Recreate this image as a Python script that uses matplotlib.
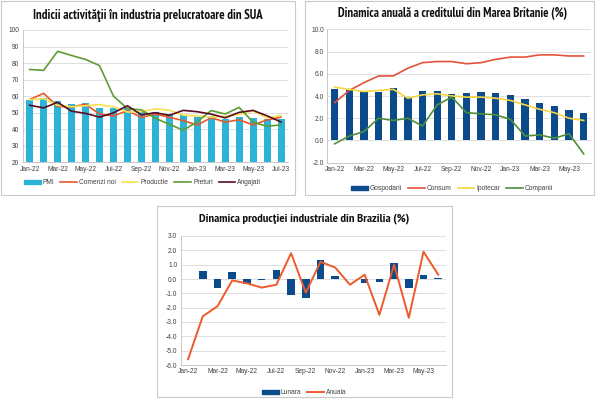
import numpy as np
import matplotlib
matplotlib.use("Agg")
import matplotlib.pyplot as plt
from matplotlib import font_manager
from matplotlib.patches import Rectangle
from matplotlib.lines import Line2D
from matplotlib.patches import Patch

plt.rcParams['axes.unicode_minus'] = False

# ---------------- data ----------------
us_months = ["Jan-22", "Feb-22", "Mar-22", "Apr-22", "May-22", "Jun-22", "Jul-22", "Aug-22",
             "Sep-22", "Oct-22", "Nov-22", "Dec-22", "Jan-23", "Feb-23", "Mar-23", "Apr-23",
             "May-23", "Jun-23", "Jul-23"]
us_pmi = [57.6, 58.6, 57.1, 55.4, 56.1, 53.0, 52.8, 52.8, 50.9, 50.2, 49.0, 48.4, 47.4, 47.7,
          46.3, 47.1, 46.9, 46.0, 46.4]
us_new_orders = [57.9, 61.7, 53.8, 53.5, 55.1, 49.2, 48.0, 51.3, 47.1, 49.2, 47.2, 45.2, 42.5,
                 47.0, 44.3, 45.7, 42.6, 45.6, 47.3]
us_production = [57.8, 58.5, 54.5, 53.6, 54.2, 54.9, 53.5, 50.4, 50.6, 52.3, 51.5, 48.5, 48.0,
                 47.3, 47.8, 48.9, 51.1, 46.7, 48.3]
us_prices = [76.1, 75.6, 87.1, 84.6, 82.2, 78.5, 60.0, 52.5, 51.7, 46.6, 43.0, 39.4, 44.5, 51.3,
             49.2, 53.2, 44.2, 41.8, 42.6]
us_employment = [54.5, 52.9, 56.3, 50.9, 49.6, 47.3, 49.9, 54.2, 48.7, 50.0, 48.4, 51.4, 50.6,
                 49.1, 46.9, 50.2, 51.4, 48.1, 44.4]
us_labels = ["PMI", "Comenzi noi", "Productie", "Preturi", "Angajati"]
us_title = "Indicii activităţii în industria prelucratoare din SUA"
us_yticks = [20, 30, 40, 50, 60, 70, 80, 90, 100]

uk_months = us_months[:18]
uk_households = [4.6, 4.5, 4.35, 4.4, 4.7, 3.9, 4.45, 4.45, 4.15, 4.3, 4.4, 4.3, 4.05, 3.75,
                 3.35, 3.1, 2.7, 2.5]
uk_consumer = [3.4, 4.5, 5.2, 5.8, 5.8, 6.5, 7.0, 7.1, 7.1, 6.9, 7.0, 7.3, 7.5, 7.5, 7.7, 7.7,
               7.6, 7.6]
uk_mortgage = [4.8, 4.6, 4.4, 4.5, 4.6, 3.8, 4.1, 4.2, 4.0, 3.9, 3.9, 3.8, 3.6, 3.2, 2.8, 2.5,
               2.0, 1.8]
uk_companies = [-0.3, 0.4, 0.8, 2.0, 1.8, 2.0, 1.3, 3.2, 3.9, 2.5, 2.4, 2.3, 1.9, 0.4, 0.5, 0.2,
                0.6, -1.2]
uk_labels = ["Gospodarii", "Consum", "Ipotecar", "Companii"]
uk_title = "Dinamica anuală a creditului din Marea Britanie (%)"
uk_yticks = [-2, 0, 2, 4, 6, 8, 10]

br_months = us_months[:18]
br_monthly = [0.0, 0.55, -0.65, 0.5, -0.35, -0.1, 0.65, -1.1, -1.3, 1.3, 0.2, 0.0, -0.3, -0.2,
              1.1, -0.6, 0.3, 0.1]
br_annual = [-5.6, -2.6, -1.9, -0.1, -0.3, -0.6, -0.4, 1.8, -0.95, 1.2, 0.8, -0.4, 0.3, -2.5,
             1.0, -2.7, 1.9, 0.3]
br_labels = ["Lunara", "Anuala"]
br_title = "Dinamica producţiei industriale din Brazilia (%)"
br_yticks = [-6, -5, -4, -3, -2, -1, 0, 1, 2, 3]

# ---------------- styling ----------------
W, H = 600, 399
fig = plt.figure(figsize=(W / 100, H / 100), dpi=100)
fig.patch.set_facecolor("white")


def pick_title_font():
    files = [f for f in font_manager.fontManager.ttflist]
    def bold(f):
        w = f.weight if isinstance(f.weight, int) else {"bold": 700, "heavy": 800, "black": 900}.get(str(f.weight), 400)
        return w >= 600
    for key in ["narrow", "condensed"]:
        for f in files:
            n = (f.name + " " + f.fname).lower()
            if key in n and bold(f) and f.style == "normal":
                return font_manager.FontProperties(fname=f.fname)
        for f in files:
            if key in str(f.stretch).lower() and bold(f) and f.style == "normal":
                return font_manager.FontProperties(fname=f.fname)
    return font_manager.FontProperties(family="Liberation Sans", weight="bold")


title_fp = pick_title_font()
text_family = ["Liberation Sans", "DejaVu Sans"]
TICK_FS = 4.8
TXT = "#404040"
GRID = "#d9d9d9"


def px_rect(l, t, r, b):
    return [l / W, 1 - b / H, (r - l) / W, (b - t) / H]


def frame(l, t, r, b):
    fig.patches.append(Rectangle((l / W, 1 - b / H), (r - l) / W, (b - t) / H,
                                 transform=fig.transFigure, fill=False,
                                 edgecolor="#c8c8c8", linewidth=0.8))


def style_axes(ax, yticks, fmt, n, months):
    ax.set_ylim(yticks[0], yticks[-1])
    ax.set_yticks(yticks)
    ax.set_yticklabels([fmt.format(v) for v in yticks])
    ax.set_xlim(-0.5, n - 0.5)
    ax.set_xticks(range(0, n, 2))
    ax.set_xticklabels([months[i] for i in range(0, n, 2)])
    ax.grid(axis="y", color=GRID, linewidth=0.6)
    ax.set_axisbelow(True)
    for s in ["top", "right"]:
        ax.spines[s].set_visible(False)
    for s in ["left", "bottom"]:
        ax.spines[s].set_color("#bfbfbf")
        ax.spines[s].set_linewidth(0.6)
    ax.tick_params(axis="both", length=0, labelsize=TICK_FS, colors=TXT, pad=2.5)
    for lab in ax.get_xticklabels() + ax.get_yticklabels():
        lab.set_family(text_family)


def legend(handles, labels, cx, cy, hl=2.5):
    fig.legend(handles, labels, loc="center", bbox_to_anchor=(cx / W, 1 - cy / H),
               ncol=len(handles), frameon=False, handlelength=hl, handletextpad=0.3,
               columnspacing=0.9, prop={"family": text_family, "size": TICK_FS},
               labelcolor=TXT, borderaxespad=0, borderpad=0)


titles = []


def title(txt, cx, cy, target_w):
    t = fig.text(cx / W, 1 - cy / H, txt, ha="center", va="center", fontsize=9.6,
                 fontproperties=title_fp, color="#111111")
    t.set_fontsize(9.6)
    titles.append((t, target_w))


# ---------------- panel 1: US ----------------
frame(1, 1, 295, 195)
ax1 = fig.add_axes(px_rect(22.7, 30, 288, 162.3))
x1 = np.arange(len(us_months))
c_pmi, c_no, c_prod, c_pr, c_emp = "#2db3d8", "#e8582a", "#f7e24f", "#5f9c35", "#5a0c1e"
ax1.bar(x1, us_pmi, width=0.5, color=c_pmi, zorder=2)
ax1.plot(x1, us_new_orders, color=c_no, lw=1.2, zorder=3)
ax1.plot(x1, us_production, color=c_prod, lw=1.2, zorder=3)
ax1.plot(x1, us_prices, color=c_pr, lw=1.2, zorder=3)
ax1.plot(x1, us_employment, color=c_emp, lw=1.2, zorder=4)
style_axes(ax1, us_yticks, "{:d}", len(us_months), us_months)
title(us_title, 148, 15, 233)
legend([Patch(color=c_pmi), Line2D([], [], color=c_no, lw=1.2),
        Line2D([], [], color=c_prod, lw=1.2), Line2D([], [], color=c_pr, lw=1.2),
        Line2D([], [], color=c_emp, lw=1.2)], us_labels, 142.5, 182.7)

# ---------------- panel 2: UK ----------------
frame(305, 1, 594, 195)
ax2 = fig.add_axes(px_rect(327.3, 29.3, 591, 162.7))
x2 = np.arange(len(uk_months))
c_h, c_c, c_m, c_co = "#0b4a8b", "#e2533a", "#f5d642", "#4e8f3a"
ax2.bar(x2, uk_households, width=0.5, color=c_h, zorder=2)
ax2.plot(x2, uk_consumer, color=c_c, lw=1.2, zorder=3)
ax2.plot(x2, uk_mortgage, color=c_m, lw=1.2, zorder=3)
ax2.plot(x2, uk_companies, color=c_co, lw=1.2, zorder=3)
style_axes(ax2, uk_yticks, "{:.1f}", len(uk_months), uk_months)
title(uk_title, 453, 14, 233)
legend([Patch(color=c_h), Line2D([], [], color=c_c, lw=1.2),
        Line2D([], [], color=c_m, lw=1.2), Line2D([], [], color=c_co, lw=1.2)],
       uk_labels, 452, 188.7)

# ---------------- panel 3: Brazil ----------------
frame(157, 206, 452, 397)
ax3 = fig.add_axes(px_rect(180.7, 236, 445.6, 365))
x3 = np.arange(len(br_months))
c_l, c_a = "#0b4a8b", "#ee5a2a"
ax3.bar(x3, br_monthly, width=0.52, color=c_l, zorder=2)
ax3.plot(x3, br_annual, color=c_a, lw=1.4, zorder=3)
style_axes(ax3, br_yticks, "{:.1f}", len(br_months), br_months)
title(br_title, 304, 219, 212)
legend([Patch(color=c_l), Line2D([], [], color=c_a, lw=1.4)], br_labels, 304.5, 392.7)

# fit titles to the reference widths
fig.canvas.draw()
r = fig.canvas.get_renderer()
for t, tw in titles:
    w = t.get_window_extent(r).width
    t.set_fontsize(min(10.5, 9.6 * tw / w))

fig.savefig("out.png", dpi=100, facecolor="white")
